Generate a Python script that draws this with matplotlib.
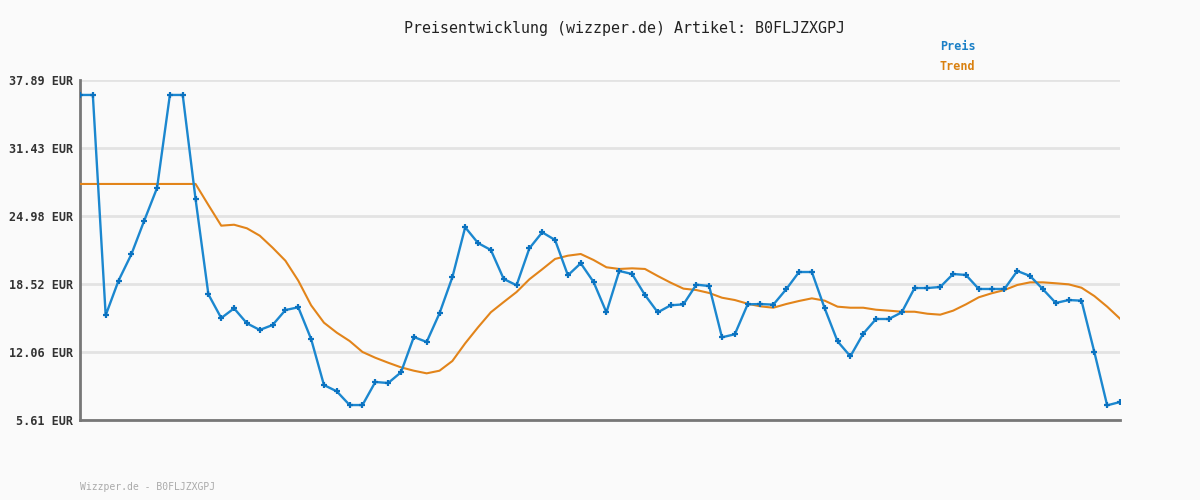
#Price history chart for one article, with trend line
import matplotlib
matplotlib.use('Agg')
import matplotlib.pyplot as plt
import numpy as np

# values (EUR)
price = [36.47, 36.47, 15.55, 18.84, 21.34, 24.53, 27.64, 36.47, 36.47, 26.59,
         17.54, 15.29, 16.21, 14.79, 14.16, 14.63, 16.05, 16.31, 13.30, 8.93,
         8.33, 7.03, 7.03, 9.22, 9.12, 10.14, 13.49, 13.02, 15.74, 19.16,
         23.91, 22.41, 21.75, 19.00, 18.40, 21.91, 23.43, 22.70, 19.35, 20.49,
         18.71, 15.83, 19.76, 19.47, 17.48, 15.83, 16.50, 16.59, 18.46, 18.33,
         13.46, 13.75, 16.59, 16.62, 16.56, 18.02, 19.66, 19.66, 16.21, 13.08,
         11.66, 13.80, 15.20, 15.20, 15.83, 18.14, 18.14, 18.24, 19.47, 19.38,
         18.05, 18.05, 18.05, 19.76, 19.28, 18.02, 16.72, 17.00, 16.94, 12.07,
         7.00, 7.32]
trend = [28.02, 28.02, 28.02, 28.02, 28.02, 28.02, 28.02, 28.02, 28.02, 28.02,
         26.02, 24.06, 24.15, 23.81, 23.11, 21.97, 20.73, 18.84, 16.50, 14.85,
         13.90, 13.11, 12.07, 11.52, 11.05, 10.61, 10.29, 10.04, 10.29, 11.21,
         12.89, 14.41, 15.84, 16.81, 17.76, 18.97, 19.92, 20.90, 21.21, 21.37,
         20.80, 20.11, 19.95, 20.01, 19.95, 19.28, 18.65, 18.08, 17.95, 17.67,
         17.22, 17.00, 16.65, 16.40, 16.27, 16.62, 16.91, 17.16, 16.94, 16.37,
         16.27, 16.27, 16.08, 15.99, 15.89, 15.89, 15.70, 15.61, 15.99, 16.59,
         17.26, 17.64, 17.95, 18.43, 18.68, 18.68, 18.59, 18.49, 18.17, 17.38,
         16.37, 15.23]
y_ticks = [5.61, 12.06, 18.52, 24.98, 31.43, 37.89]
article = 'B0FLJZXGPJ'

BLUE = '#1b87cf'
ORANGE = '#e2841a'
MONO = 'DejaVu Sans Mono'

fig = plt.figure(figsize=(12, 5), dpi=100, facecolor='#fafafa')
ax = fig.add_axes([80/1200, 80/500, 1040/1200, 340/500])
ax.set_facecolor('#fafafa')

x = np.arange(len(price))
ax.plot(x, trend, color=ORANGE, lw=1.5, zorder=3)
ax.plot(x, price, color=BLUE, lw=1.7, marker='+', ms=4.5, mew=1.6,
        mec='#0b72c0', zorder=4)

ax.set_xlim(0, len(price) - 1)
ax.set_ylim(y_ticks[0], y_ticks[-1])
ax.set_yticks(y_ticks)
ax.set_yticklabels(['%.2f EUR' % v for v in y_ticks], family=MONO,
                   fontsize=8.5, fontweight='bold', color='#333333')
ax.set_xticks([])
ax.tick_params(axis='y', length=0, pad=5)
ax.grid(axis='y', color='#e3e3e3', lw=2, zorder=0)

for s in ['top', 'right']:
    ax.spines[s].set_visible(False)
for s in ['left', 'bottom']:
    ax.spines[s].set_color('#777777')
    ax.spines[s].set_linewidth(2)

fig.text(0.52, 1 - 28/500, 'Preisentwicklung (wizzper.de) Artikel: ' + article,
         family=MONO, fontsize=10.8, color='#222222', ha='center', va='center')
fig.text(940/1200, 1 - 47/500, 'Preis', family=MONO, fontsize=8.5,
         fontweight='bold', color='#1a7fc6', ha='left', va='center')
fig.text(940/1200, 1 - 67/500, 'Trend', family=MONO, fontsize=8.5,
         fontweight='bold', color='#d9800f', ha='left', va='center')
fig.text(80/1200, 1 - 487/500, 'Wizzper.de - ' + article, family=MONO,
         fontsize=7, color='#aaaaaa', ha='left', va='center')

fig.savefig('out.png', dpi=100, facecolor=fig.get_facecolor())
